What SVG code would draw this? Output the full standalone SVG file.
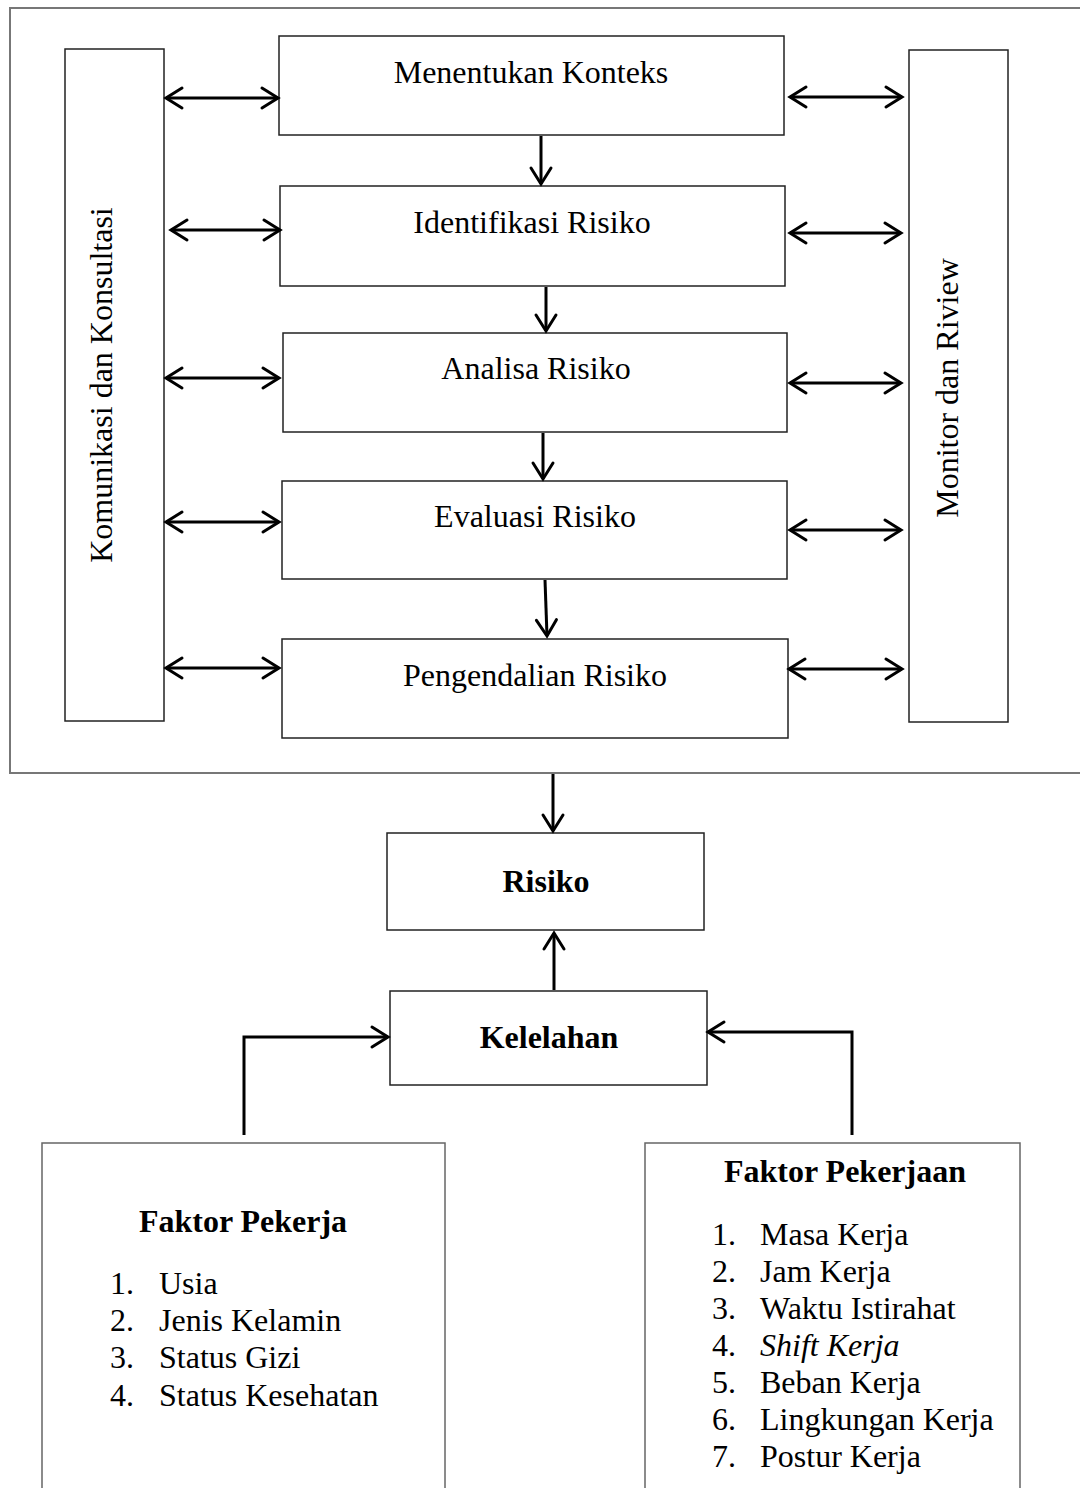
<svg xmlns="http://www.w3.org/2000/svg" width="1080" height="1488" viewBox="0 0 1080 1488">
<style>
.box{fill:#fff;stroke:#222;stroke-width:1.5}
.frame{fill:none;stroke:#777;stroke-width:2}
.gbox{fill:#fff;stroke:#666;stroke-width:1.5}
.t{font-family:"Liberation Serif","Times New Roman",serif;font-size:32px;fill:#000}
.b{font-weight:bold}
.c{text-anchor:middle}
.ar{fill:none;stroke:#000;stroke-width:3}
</style>
<defs>
<marker id="ah" markerUnits="userSpaceOnUse" viewBox="-20 -15 24 30" refX="0" refY="0" markerWidth="24" markerHeight="30" orient="auto-start-reverse" overflow="visible">
<path d="M-16,-10 L0,0 L-16,10" fill="none" stroke="#000" stroke-width="3" stroke-linecap="round"/>
</marker>
</defs>
<rect x="10" y="8" width="1075" height="765" class="frame"/>
<g id="komunikasi"><rect x="65" y="49" width="99" height="672" class="box"/><text class="t c" transform="translate(112,385) rotate(-90)">Komunikasi dan Konsultasi</text></g>
<g id="monitor"><rect x="909" y="50" width="99" height="672" class="box"/><text class="t c" transform="translate(958,388) rotate(-90)">Monitor dan Riview</text></g>
<g id="konteks"><rect x="279" y="36" width="505" height="99" class="box"/><text class="t c" x="531" y="83">Menentukan Konteks</text></g>
<g id="identifikasi"><rect x="280" y="186" width="505" height="100" class="box"/><text class="t c" x="532" y="233">Identifikasi Risiko</text></g>
<g id="analisa"><rect x="283" y="333" width="504" height="99" class="box"/><text class="t c" x="536" y="379">Analisa Risiko</text></g>
<g id="evaluasi"><rect x="282" y="481" width="505" height="98" class="box"/><text class="t c" x="535" y="527">Evaluasi Risiko</text></g>
<g id="pengendalian"><rect x="282" y="639" width="506" height="99" class="box"/><text class="t c" x="535" y="686">Pengendalian Risiko</text></g>
<g id="risiko"><rect x="387" y="833" width="317" height="97" class="box"/><text class="t c b" x="546" y="892">Risiko</text></g>
<g id="kelelahan"><rect x="390" y="991" width="317" height="94" class="box"/><text class="t c b" x="549" y="1048">Kelelahan</text></g>
<g id="faktor-pekerja"><rect x="42" y="1143" width="403" height="360" class="gbox"/>
<text class="t c b" x="243" y="1232">Faktor Pekerja</text>
<text class="t" x="110" y="1294">1.</text><text class="t" x="159" y="1294">Usia</text>
<text class="t" x="110" y="1331">2.</text><text class="t" x="159" y="1331">Jenis Kelamin</text>
<text class="t" x="110" y="1368">3.</text><text class="t" x="159" y="1368">Status Gizi</text>
<text class="t" x="110" y="1406">4.</text><text class="t" x="159" y="1406">Status Kesehatan</text>
</g>
<g id="faktor-pekerjaan"><rect x="645" y="1143" width="375" height="360" class="gbox"/>
<text class="t c b" x="845" y="1182">Faktor Pekerjaan</text>
<text class="t" x="712" y="1245">1.</text><text class="t" x="760" y="1245">Masa Kerja</text>
<text class="t" x="712" y="1282">2.</text><text class="t" x="760" y="1282">Jam Kerja</text>
<text class="t" x="712" y="1319">3.</text><text class="t" x="760" y="1319">Waktu Istirahat</text>
<text class="t" x="712" y="1356">4.</text><text class="t" x="760" y="1356" font-style="italic">Shift Kerja</text>
<text class="t" x="712" y="1393">5.</text><text class="t" x="760" y="1393">Beban Kerja</text>
<text class="t" x="712" y="1430">6.</text><text class="t" x="760" y="1430">Lingkungan Kerja</text>
<text class="t" x="712" y="1467">7.</text><text class="t" x="760" y="1467">Postur Kerja</text>
</g>
<g id="connectors">
<line class="ar" x1="166" y1="98" x2="278" y2="98" marker-start="url(#ah)" marker-end="url(#ah)"/>
<line class="ar" x1="171" y1="230" x2="280" y2="230" marker-start="url(#ah)" marker-end="url(#ah)"/>
<line class="ar" x1="166" y1="378" x2="279" y2="378" marker-start="url(#ah)" marker-end="url(#ah)"/>
<line class="ar" x1="166" y1="522" x2="279" y2="522" marker-start="url(#ah)" marker-end="url(#ah)"/>
<line class="ar" x1="166" y1="668" x2="279" y2="668" marker-start="url(#ah)" marker-end="url(#ah)"/>
<line class="ar" x1="790" y1="97" x2="902" y2="97" marker-start="url(#ah)" marker-end="url(#ah)"/>
<line class="ar" x1="790" y1="233" x2="901" y2="233" marker-start="url(#ah)" marker-end="url(#ah)"/>
<line class="ar" x1="790" y1="383" x2="901" y2="383" marker-start="url(#ah)" marker-end="url(#ah)"/>
<line class="ar" x1="790" y1="530" x2="901" y2="530" marker-start="url(#ah)" marker-end="url(#ah)"/>
<line class="ar" x1="789" y1="669" x2="902" y2="669" marker-start="url(#ah)" marker-end="url(#ah)"/>
<line class="ar" x1="541" y1="136" x2="541" y2="184" marker-end="url(#ah)"/>
<line class="ar" x1="546" y1="287" x2="546" y2="331" marker-end="url(#ah)"/>
<line class="ar" x1="543" y1="433" x2="543" y2="479" marker-end="url(#ah)"/>
<line class="ar" x1="545" y1="580" x2="547" y2="636" marker-end="url(#ah)"/>
<line class="ar" x1="553" y1="774" x2="553" y2="831" marker-end="url(#ah)"/>
<line class="ar" x1="554" y1="990" x2="554" y2="933" marker-end="url(#ah)"/>
<polyline class="ar" points="244,1135 244,1037 388,1037" marker-end="url(#ah)"/>
<polyline class="ar" points="852,1135 852,1032 708,1032" marker-end="url(#ah)"/>
</g>
</svg>
